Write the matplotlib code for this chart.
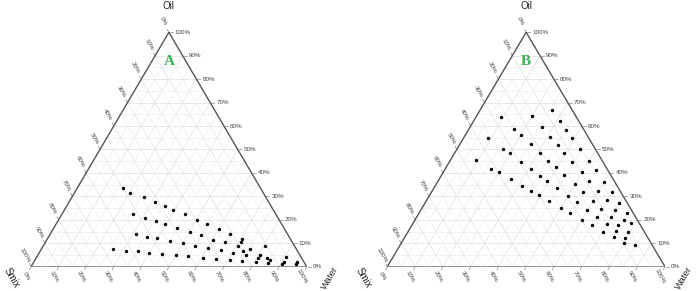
import numpy as np
import matplotlib.pyplot as plt

# ternary compositions in percent (smix = 100 - oil - water)
a_oil = [33.4, 31.3, 29.7, 27.6, 25.9, 24.3, 22.4, 19.9, 18.3, 16.1, 14.0, 11.9,
         10.5, 9.0, 4.0, 2.0,
         22.4, 20.8, 19.4, 18.2, 16.6, 14.9, 13.7, 11.4, 10.4, 9.0, 7.4,
         14.0, 12.8, 12.1, 11.1, 10.0, 9.0, 7.9, 7.0, 6.0, 5.2, 5.0, 6.9,
         7.4, 6.8, 6.6, 6.0, 5.5, 4.9, 4.4, 3.8, 3.4, 2.9, 2.4,
         3.7, 2.0, 3.6, 3.0, 1.5, 2.2, 1.2, 1.0]
a_water = [16.7, 20.4, 26.0, 31.2, 35.7, 39.5, 44.7, 50.3, 54.8, 60.1, 65.3, 70.5,
           71.1, 80.5, 90.5, 95.6,
           25.9, 31.1, 35.6, 39.6, 44.8, 50.3, 54.8, 60.4, 65.3, 70.5, 75.6,
           31.0, 35.7, 39.6, 44.8, 50.1, 55.0, 60.2, 65.4, 70.4, 75.3, 80.6, 73.3,
           25.9, 31.2, 35.5, 39.7, 44.7, 50.3, 54.9, 60.5, 65.3, 70.6, 75.4,
           80.5, 80.6, 83.7, 85.3, 85.3, 90.6, 90.4, 95.7]

b_oil = [67.0, 64.0, 64.3, 62.3, 58.6, 59.5, 58.4, 56.3, 55.4, 54.8,
         54.8, 52.2, 51.8, 50.3, 50.2, 48.3, 48.6, 48.7, 45.6, 44.7,
         45.3, 44.7, 45.2, 41.8, 40.3, 41.6, 42.6, 40.3, 41.1, 37.3,
         38.9, 39.0, 34.6, 36.6, 35.2, 36.7, 36.1, 32.4, 33.6, 30.5,
         30.2, 32.0, 32.2, 31.7, 28.0, 27.5, 28.2, 28.3, 27.0, 25.2,
         24.2, 24.6, 24.1, 22.8, 22.9, 20.1, 21.2, 21.2, 20.1, 17.8,
         18.2, 17.9, 18.5, 14.9, 15.2, 14.7, 12.7, 12.4, 10.2, 9.3]
b_water = [25.8, 8.9, 19.9, 30.9, 16.4, 25.9, 35.3, 19.9, 30.9, 39.2,
           8.9, 25.8, 35.4, 44.3, 16.6, 20.1, 30.8, 39.4, 9.0, 25.7,
           35.3, 44.3, 49.9, 16.6, 19.9, 30.8, 39.4, 49.9, 54.5, 25.9,
           35.5, 44.3, 31.1, 39.3, 50.0, 54.4, 60.1, 35.4, 44.3, 39.4,
           50.0, 54.5, 59.8, 65.0, 44.3, 54.5, 59.8, 64.8, 70.0, 49.8,
           59.9, 64.8, 70.1, 74.9, 54.5, 60.0, 64.8, 70.0, 75.1, 64.8,
           70.0, 74.2, 78.4, 70.2, 74.8, 79.2, 75.2, 79.5, 80.1, 84.6]

tick_vals = list(range(0, 101, 10))
tick_labels = [f"{v}%" for v in tick_vals]

W, H = 697, 291
fig = plt.figure(figsize=(W / 100, H / 100), dpi=100)
fig.patch.set_facecolor('white')
plt.rcParams['font.family'] = ['Liberation Sans', 'DejaVu Sans']


def txy(oil, water):
    oil = np.asarray(oil, dtype=float) / 100
    water = np.asarray(water, dtype=float) / 100
    return water + oil / 2, oil


def panel(left, base, wpx, hpx, oil, water, letter):
    ax = fig.add_axes([left / W, (H - base) / H, wpx / W, hpx / H])
    ax.set_xlim(0, 1)
    ax.set_ylim(0, 1)
    ax.axis('off')
    dx, dy = 1 / wpx, 1 / hpx

    # grid every 5 %
    for v in range(5, 100, 5):
        c = '#e4e4e4' if v % 10 == 0 else '#efefef'
        for a, b in [((v, 0), (v, 100 - v)),       # const oil
                     ((0, v), (100 - v, v)),       # const water
                     ((100 - v, 0), (0, 100 - v))]:  # const smix
            x, y = txy([a[0], b[0]], [a[1], b[1]])
            ax.plot(x, y, color=c, lw=0.6, zorder=1)

    # edges
    ax.plot([0, 0.5], [0, 1], color='#555555', lw=1.0, zorder=3)
    ax.plot([1, 0.5], [0, 1], color='#555555', lw=1.0, zorder=3)
    ax.plot([0, 1], [0, 0], color='#8a8a8a', lw=2.0, zorder=3)

    tk = dict(color='#888888', lw=0.5, clip_on=False)
    lab = dict(fontsize=4.5, color='#444444', clip_on=False)
    for v, s in zip(tick_vals, tick_labels):
        # right axis: oil
        x, y = txy(v, 100 - v)
        ax.plot([x + 1 * dx, x + 4 * dx], [y, y], **tk)
        ax.text(x + 6 * dx, y, s, ha='left', va='center', **lab)
        # bottom axis: water
        x, y = txy(0, v)
        ax.plot([x, x - 1.5 * dx], [y, y - 3 * dy], **tk)
        ax.text(x - 5 * dx, y - 10 * dy, s, ha='center', va='center',
                rotation=-60, **lab)
        # left axis: smix
        x, y = txy(100 - v, 0)
        ax.plot([x, x - 1.5 * dx], [y, y + 3 * dy], **tk)
        ax.text(x - 6 * dx, y + 11 * dy, s, ha='center', va='center',
                rotation=-60, **lab)

    x, y = txy(oil, water)
    ax.scatter(x, y, s=6, color='black', zorder=5, linewidths=0)

    ax.text(0.5, (base - 62) * dy, letter, ha='center', va='center',
            fontsize=11, fontweight='bold', family='Liberation Serif',
            color='#3cb05a', zorder=6)
    return left + wpx / 2


cxa = panel(31, 266.7, 275.7, 234.4, a_oil, a_water, 'A')
cxb = panel(387.3, 266.7, 277.7, 234.4, b_oil, b_water, 'B')

for cx, sx, wx in [(cxa, 12, 330), (cxb, 364, 684)]:
    fig.text(cx / W, 1 - 6 / H, 'Oil', ha='center', va='center',
             fontsize=7, color='#222222')
    fig.text(sx / W, 1 - 278 / H, 'Smix', ha='center', va='center',
             fontsize=7, color='#222222', rotation=-60)
    fig.text(wx / W, 1 - 278 / H, 'Water', ha='center', va='center',
             fontsize=6.8, color='#222222', rotation=60)

plt.savefig('out.png', dpi=100)
